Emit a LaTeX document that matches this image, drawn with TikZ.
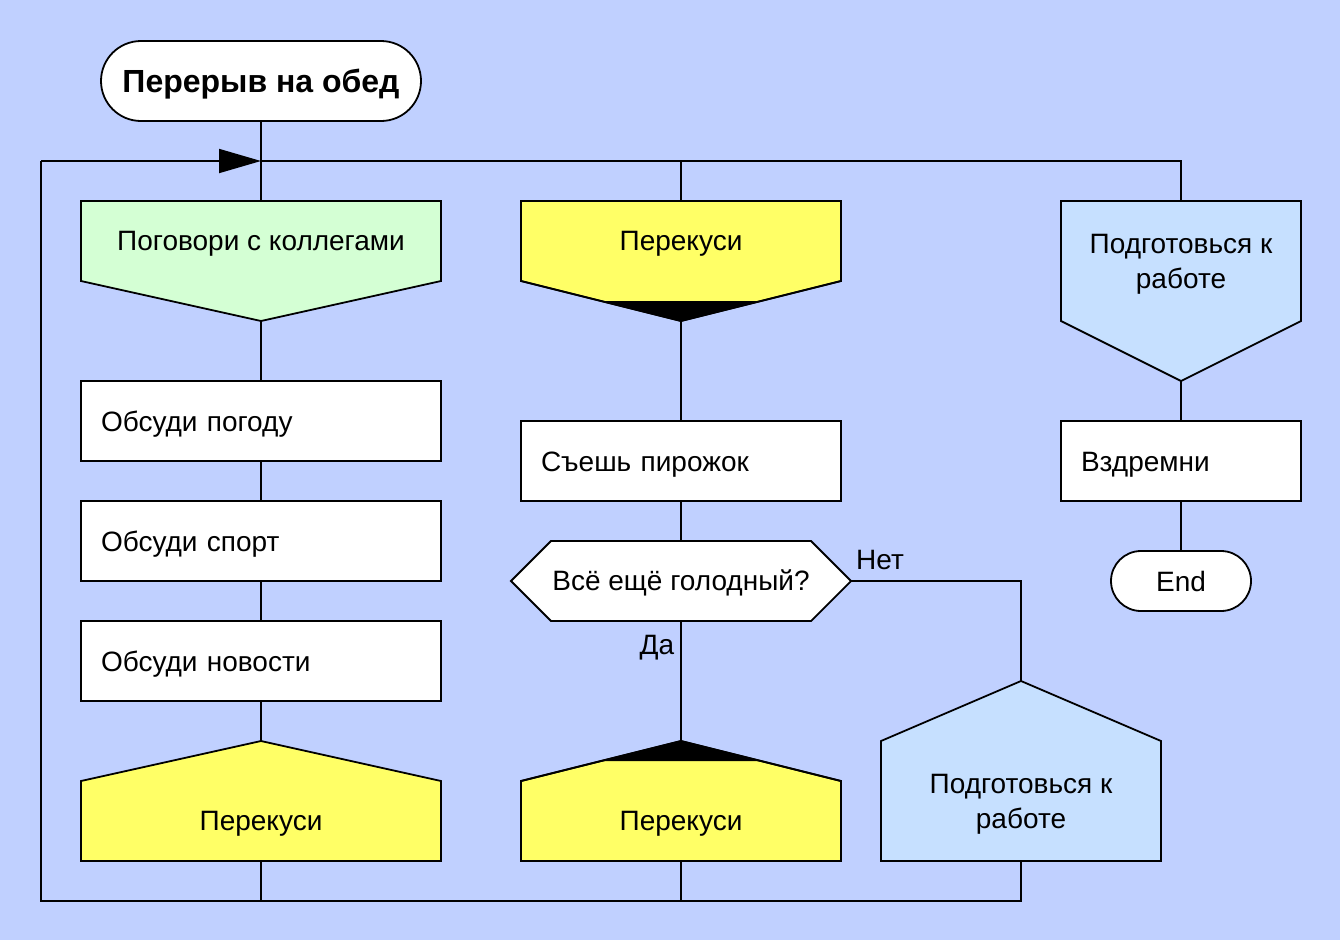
\documentclass[tikz,border=0pt]{standalone}
\usepackage{fontspec}
\setmainfont{Liberation Sans}
\usetikzlibrary{arrows.meta}
\definecolor{bgc}{RGB}{192,208,255}
\definecolor{greenc}{RGB}{212,255,212}
\definecolor{yellowc}{RGB}{255,255,102}
\definecolor{bluec}{RGB}{198,224,255}
\begin{document}
\begin{tikzpicture}[x=1pt,y=-1pt,line width=1.8pt,
  every node/.style={font=\fontsize{28}{35}\selectfont},
  outl/.style={draw=black,line width=1.8pt,line join=miter},
  term/.style={draw=black,fill=white,line width=1.8pt,inner sep=0pt,text height=20pt,text depth=0pt},
  procbox/.style={draw=black,fill=white,line width=1.8pt,minimum width=360pt,minimum height=80pt,text width=320pt,align=left,inner xsep=20pt,inner ysep=0pt,text height=20pt,text depth=0pt},
  lbl/.style={inner sep=0pt,align=center},
  conn/.style={draw=black,line width=1.8pt}]
\useasboundingbox (0,0) rectangle (1340,940);
\fill[bgc] (0,0) rectangle (1340,940);

% start
\node[term,minimum width=320pt,minimum height=80pt,rounded corners=40pt,font=\fontsize{32}{38}\selectfont\bfseries,text height=23pt] (start) at (261,81) {Перерыв на обед};

% junctions
\coordinate (j1) at (261,161);
\coordinate (j2) at (681,161);
\coordinate (j3) at (1181,161);
\coordinate (jl) at (41,161);
\coordinate (bl) at (41,901);
\coordinate (b1) at (261,901);
\coordinate (b2) at (681,901);
\coordinate (b3) at (1021,901);

% column 1
\filldraw[outl,fill=greenc] (81,201) -- (441,201) -- (441,281) -- (261,321) -- (81,281) -- cycle;
\coordinate (g1top) at (261,201);
\coordinate (g1bot) at (261,321);
\node[lbl] (g1) at (261,244) {Поговори с коллегами};

\node[procbox] (p1) at (261,421) {Обсуди погоду};
\node[procbox] (p2) at (261,541) {Обсуди спорт};
\node[procbox] (p3) at (261,661) {Обсуди новости};

\filldraw[outl,fill=yellowc] (261,741) -- (441,781) -- (441,861) -- (81,861) -- (81,781) -- cycle;
\coordinate (y1top) at (261,741);
\coordinate (y1bot) at (261,861);
\node[lbl] (y1) at (261,824) {Перекуси};

% column 2
\filldraw[outl,fill=yellowc] (521,201) -- (841,201) -- (841,281) -- (681,321) -- (521,281) -- cycle;
\fill[black] (601,301) -- (761,301) -- (681,321) -- cycle;
\draw[outl] (521,201) -- (841,201) -- (841,281) -- (681,321) -- (521,281) -- cycle;
\coordinate (y2top) at (681,201);
\coordinate (y2bot) at (681,321);
\node[lbl] (y2) at (681,244) {Перекуси};

\node[procbox,minimum width=320pt,text width=280pt] (p4) at (681,461) {Съешь пирожок};

\filldraw[outl,fill=white] (511,581) -- (551,541) -- (811,541) -- (851,581) -- (811,621) -- (551,621) -- cycle;
\coordinate (dtop) at (681,541);
\coordinate (dbot) at (681,621);
\coordinate (dright) at (851,581);
\node[lbl] (d) at (681,583) {Всё ещё голодный?};
\node[lbl] (net) at (880,560) {Нет};
\node[lbl] (da) at (657,648) {Да};

\filldraw[outl,fill=yellowc] (681,741) -- (841,781) -- (841,861) -- (521,861) -- (521,781) -- cycle;
\fill[black] (681,741) -- (761,761) -- (601,761) -- cycle;
\draw[outl] (681,741) -- (841,781) -- (841,861) -- (521,861) -- (521,781) -- cycle;
\coordinate (y3top) at (681,741);
\coordinate (y3bot) at (681,861);
\node[lbl] (y3) at (681,824) {Перекуси};

% column 3
\filldraw[outl,fill=bluec] (1061,201) -- (1301,201) -- (1301,321) -- (1181,381) -- (1061,321) -- cycle;
\coordinate (b4top) at (1181,201);
\coordinate (b4bot) at (1181,381);
\node[lbl] (pw1) at (1181,264) {Подготовься к\\работе};

\node[procbox,minimum width=240pt,text width=200pt] (p5) at (1181,461) {Вздремни};
\node[term,minimum width=140pt,minimum height=60pt,rounded corners=30pt] (end) at (1181,581) {End};

\filldraw[outl,fill=bluec] (1021,681) -- (1161,741) -- (1161,861) -- (881,861) -- (881,741) -- cycle;
\coordinate (b5top) at (1021,681);
\coordinate (b5bot) at (1021,861);
\node[lbl] (pw2) at (1021,804) {Подготовься к\\работе};

% connectors
\draw[conn] (start.south) -- (g1top);
\draw[conn] (j1) -- (j3) -- (b4top);
\draw[conn] (j2) -- (y2top);
\draw[conn] (g1bot) -- (p1.north);
\draw[conn] (p1.south) -- (p2.north);
\draw[conn] (p2.south) -- (p3.north);
\draw[conn] (p3.south) -- (y1top);
\draw[conn] (y2bot) -- (p4.north);
\draw[conn] (p4.south) -- (dtop);
\draw[conn] (dbot) -- (y3top);
\draw[conn] (dright) -| (b5top);
\draw[conn] (b4bot) -- (p5.north);
\draw[conn] (p5.south) -- (end.north);
\draw[conn] (y1bot) -- (b1);
\draw[conn] (y3bot) -- (b2);
\draw[conn] (b5bot) -- (b3) -- (bl) -- (jl);
\draw[conn,line join=miter,-{Triangle[length=42pt,width=24pt]}] (jl) -- (j1);
\end{tikzpicture}
\end{document}
